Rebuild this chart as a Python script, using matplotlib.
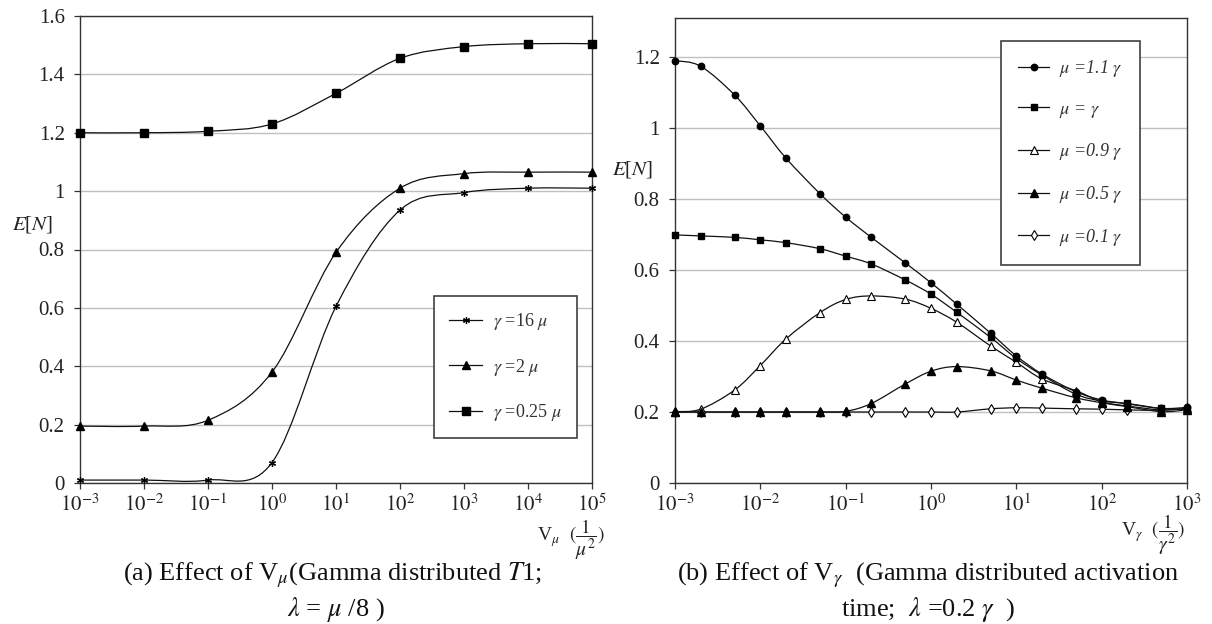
import numpy as np
import matplotlib
matplotlib.use("Agg")
import matplotlib.pyplot as plt
from matplotlib.path import Path
from matplotlib.patches import PathPatch
from matplotlib.lines import Line2D
from matplotlib.ticker import FixedLocator, NullLocator, FuncFormatter

plt.rcParams['font.family'] = ['Liberation Serif', 'DejaVu Serif']
plt.rcParams['mathtext.fontset'] = 'stix'

# (a) effect of V_mu
v_mu = [1e-3, 1e-2, 1e-1, 1e0, 1e1, 1e2, 1e3, 1e4, 1e5]
en_g16 = [0.010, 0.010, 0.010, 0.070, 0.605, 0.935, 0.995, 1.010, 1.010]
en_g2 = [0.195, 0.195, 0.215, 0.380, 0.790, 1.010, 1.060, 1.065, 1.065]
en_g025 = [1.200, 1.200, 1.205, 1.230, 1.335, 1.455, 1.495, 1.505, 1.505]
labels_a = [r'$\gamma$ =16 $\mu$', r'$\gamma$ =2 $\mu$', r'$\gamma$ =0.25 $\mu$']

# (b) effect of V_gamma
v_g = [1e-3, 2e-3, 5e-3, 1e-2, 2e-2, 5e-2, 0.1, 0.2, 0.5, 1, 2, 5,
       10, 20, 50, 100, 200, 500, 1000]
en_m11 = [1.190, 1.174, 1.093, 1.006, 0.915, 0.815, 0.749, 0.692, 0.620, 0.564,
          0.504, 0.422, 0.358, 0.307, 0.257, 0.234, 0.223, 0.210, 0.213]
en_m10 = [0.699, 0.696, 0.692, 0.685, 0.677, 0.660, 0.639, 0.617, 0.572, 0.532,
          0.481, 0.410, 0.351, 0.304, 0.250, 0.231, 0.224, 0.210, 0.208]
en_m09 = [0.201, 0.208, 0.262, 0.331, 0.406, 0.480, 0.517, 0.527, 0.518, 0.492,
          0.453, 0.386, 0.340, 0.293, 0.260, 0.229, 0.217, 0.206, 0.210]
en_m05 = [0.200, 0.200, 0.200, 0.200, 0.200, 0.200, 0.202, 0.224, 0.279, 0.315,
          0.328, 0.316, 0.290, 0.267, 0.240, 0.226, 0.215, 0.201, 0.206]
en_m01 = [0.200, 0.200, 0.200, 0.200, 0.200, 0.200, 0.200, 0.200, 0.200, 0.200,
          0.200, 0.209, 0.212, 0.211, 0.209, 0.208, 0.206, 0.205, 0.210]
labels_b = [r'$\mu$ =1.1 $\gamma$', r'$\mu$ = $\gamma$', r'$\mu$ =0.9 $\gamma$',
            r'$\mu$ =0.5 $\gamma$', r'$\mu$ =0.1 $\gamma$']

W, H = 1212, 624


def smooth_line(ax, x, y, **kw):
    # excel-like smoothed line (bezier in log-x space)
    pts = np.column_stack([np.log10(x), np.asarray(y, float)])
    n = len(pts)
    verts, codes = [pts[0]], [Path.MOVETO]
    for i in range(n - 1):
        p0, p1 = pts[max(i - 1, 0)], pts[i]
        p2, p3 = pts[i + 1], pts[min(i + 2, n - 1)]
        verts += [p1 + (p2 - p0) / 6, p2 - (p3 - p1) / 6, p2]
        codes += [Path.CURVE4] * 3
    verts = np.array(verts)
    verts[:, 0] = 10 ** verts[:, 0]
    ax.add_patch(PathPatch(Path(verts, codes), fill=False, transform=ax.transData, **kw))


def style_axes(ax, xticks, yticks, ylim):
    ax.set_xscale('log')
    ax.set_xlim(xticks[0], xticks[-1])
    ax.set_ylim(*ylim)
    ax.xaxis.set_major_locator(FixedLocator(xticks))
    ax.xaxis.set_minor_locator(NullLocator())
    ax.xaxis.set_major_formatter(FuncFormatter(lambda v, p: r'$10^{%d}$' % round(np.log10(v))))
    ax.yaxis.set_major_locator(FixedLocator(yticks))
    ax.yaxis.set_major_formatter(FuncFormatter(lambda v, p: '%g' % v))
    ax.grid(axis='y', color='#c0c0c0', lw=1.0)
    ax.set_axisbelow(True)
    for s in ax.spines.values():
        s.set_color('#333333')
        s.set_linewidth(1.0)
    ax.tick_params(axis='both', direction='out', length=4, width=0.9, color='#333333',
                   labelsize=15, labelcolor='#222222')
    ax.tick_params(axis='y', pad=7)
    ax.tick_params(axis='x', pad=4)


fig = plt.figure(figsize=(W / 100, H / 100), dpi=100)

# ---- (a)
ax1 = fig.add_axes([80 / W, 1 - 483 / H, 512 / W, 467 / H])
style_axes(ax1, v_mu, [0, 0.2, 0.4, 0.6, 0.8, 1.0, 1.2, 1.4, 1.6], (0, 1.6))
series_a = [(en_g16, dict(marker=(6, 2, 0), ms=5, mew=0.9, mfc='k', mec='k')),
            (en_g2, dict(marker='^', ms=6, mfc='k', mec='k')),
            (en_g025, dict(marker='s', ms=5.3, mfc='k', mec='k'))]
handles_a = []
for ys, mk in series_a:
    smooth_line(ax1, v_mu, ys, ec='#111111', lw=0.9)
    ax1.plot(v_mu, ys, ls='none', clip_on=False, zorder=3, **mk)
    handles_a.append(Line2D([], [], color='#111111', lw=0.9, **mk))
leg1 = fig.legend(handles_a, labels_a, loc='upper left', bbox_to_anchor=(434 / W, 1 - 296 / H),
                  bbox_transform=fig.transFigure, borderaxespad=0, fancybox=False,
                  edgecolor='#404040', framealpha=1, fontsize=13, labelspacing=1.35,
                  handlelength=1.8, handletextpad=0.6, borderpad=0.85, labelcolor='#333333')
leg1.get_frame().set_linewidth(1.2)

fig.text(12 / W, 1 - 224 / H, r'$E$[$N$]', fontsize=15, va='center', ha='left', color='#222222')
fig.text(537 / W, 1 - 540 / H, r'V$_{\mu}$  $(\dfrac{1}{\mu^2})$', fontsize=14, va='center',
         ha='left', color='#222222')
fig.text(333 / W, 1 - 575 / H, r'(a) Effect of V$_{\mu}$(Gamma distributed $T$1;',
         fontsize=19, ha='center', va='center', color='#111111')
fig.text(336 / W, 1 - 609 / H, r'$\lambda$ = $\mu$ /8 )', fontsize=19, ha='center',
         va='center', color='#111111')

# ---- (b)
ax2 = fig.add_axes([675 / W, 1 - 483 / H, 512 / W, 465 / H])
style_axes(ax2, [1e-3, 1e-2, 1e-1, 1e0, 1e1, 1e2, 1e3], [0, 0.2, 0.4, 0.6, 0.8, 1.0, 1.2],
           (0, 1.31))
# drawn bottom to top; last item is the legend position
series_b = [(en_m01, dict(marker='d', ms=5, mfc='white', mec='k', mew=0.8), 4),
            (en_m09, dict(marker='^', ms=5.5, mfc='white', mec='k', mew=0.8), 2),
            (en_m05, dict(marker='^', ms=5.5, mfc='k', mec='k'), 3),
            (en_m10, dict(marker='s', ms=5, mfc='k', mec='k'), 1),
            (en_m11, dict(marker='o', ms=4.6, mfc='k', mec='k'), 0)]
handles_b = [None] * 5
for z, (ys, mk, idx) in enumerate(series_b):
    smooth_line(ax2, v_g, ys, ec='#111111', lw=0.9, zorder=2)
    ax2.plot(v_g, ys, ls='none', clip_on=False, zorder=3 + z * 0.1, **mk)
    handles_b[idx] = Line2D([], [], color='#111111', lw=0.9, **mk)
leg2 = fig.legend(handles_b, labels_b, loc='upper left', bbox_to_anchor=(1001 / W, 1 - 41 / H),
                  bbox_transform=fig.transFigure, borderaxespad=0, fancybox=False,
                  edgecolor='#404040', framealpha=1, labelspacing=1.2,
                  prop=dict(size=13, style='italic'),
                  handlelength=1.7, handletextpad=0.55, borderpad=0.95, labelcolor='#333333')
leg2.get_frame().set_linewidth(1.2)

fig.text(612 / W, 1 - 170 / H, r'$E$[$N$]', fontsize=15, va='center', ha='left', color='#222222')
fig.text(1121 / W, 1 - 535 / H, r'V$_{\gamma}$  $(\dfrac{1}{\gamma^2})$', fontsize=14,
         va='center', ha='left', color='#222222')
fig.text(928 / W, 1 - 575 / H, r'(b) Effect of V$_{\gamma}$  (Gamma distributed activation',
         fontsize=19, ha='center', va='center', color='#111111')
fig.text(928 / W, 1 - 609 / H, r'time;  $\lambda$ =0.2 $\gamma$  )', fontsize=19,
         ha='center', va='center', color='#111111')

fig.savefig('out.png', dpi=100)
